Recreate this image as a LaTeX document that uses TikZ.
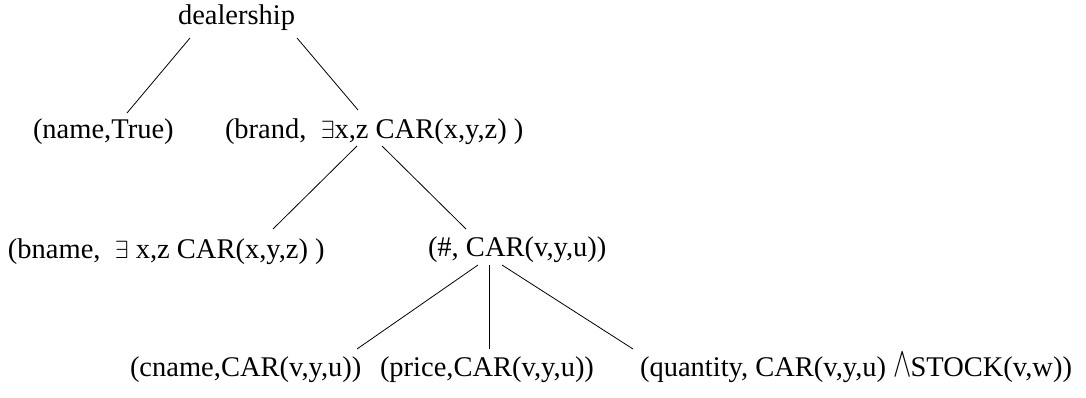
\documentclass[tikz,border=0pt]{standalone}
\usepackage{fontspec}
\usepackage{graphicx}
\setmainfont{Liberation Serif}
\begin{document}
\begin{tikzpicture}[x=1pt,y=-1pt,
  lbl/.style={anchor=base west,inner sep=0pt,outer sep=0pt,font=\fontsize{28.5}{34}\selectfont},
  edge/.style={line width=0.8pt}]
\useasboundingbox (0,0) rectangle (1086,398);
\node[lbl] (deal) at (178,25) {dealership};
\node[lbl] (name) at (33,139) {(name,True)};
\node[lbl] (brand) at (225,139) {(brand,\ \ $\exists$x,z CAR(x,y,z) )};
\node[lbl] (bname) at (8,258) {(bname,\ \ $\exists$ x,z CAR(x,y,z) )};
\node[lbl] (hash) at (428,256) {(\#, CAR(v,y,u))};
\node[lbl] (cname) at (130,376) {(cname,CAR(v,y,u))};
\node[lbl] (price) at (380,376) {(price,CAR(v,y,u))};
\node[lbl] (qty) at (640,376) {(quantity, CAR(v,y,u) \scalebox{1.1}[1.7]{$\wedge$}\kern-1pt STOCK(v,w))};
\coordinate (a1) at (190,38);  \coordinate (a2) at (127,113);
\coordinate (b1) at (297,38);  \coordinate (b2) at (358,110);
\coordinate (c1) at (357,146); \coordinate (c2) at (273,229);
\coordinate (d1) at (382,146); \coordinate (d2) at (466,229);
\coordinate (e1) at (478,265); \coordinate (e2) at (357,349);
\coordinate (f1) at (489,265); \coordinate (f2) at (489,349);
\coordinate (g1) at (502,265); \coordinate (g2) at (633,349);
\draw[edge] (a1) -- (a2);
\draw[edge] (b1) -- (b2);
\draw[edge] (c1) -- (c2);
\draw[edge] (d1) -- (d2);
\draw[edge] (e1) -- (e2);
\draw[edge] (f1) -- (f2);
\draw[edge] (g1) -- (g2);
\end{tikzpicture}
\end{document}
